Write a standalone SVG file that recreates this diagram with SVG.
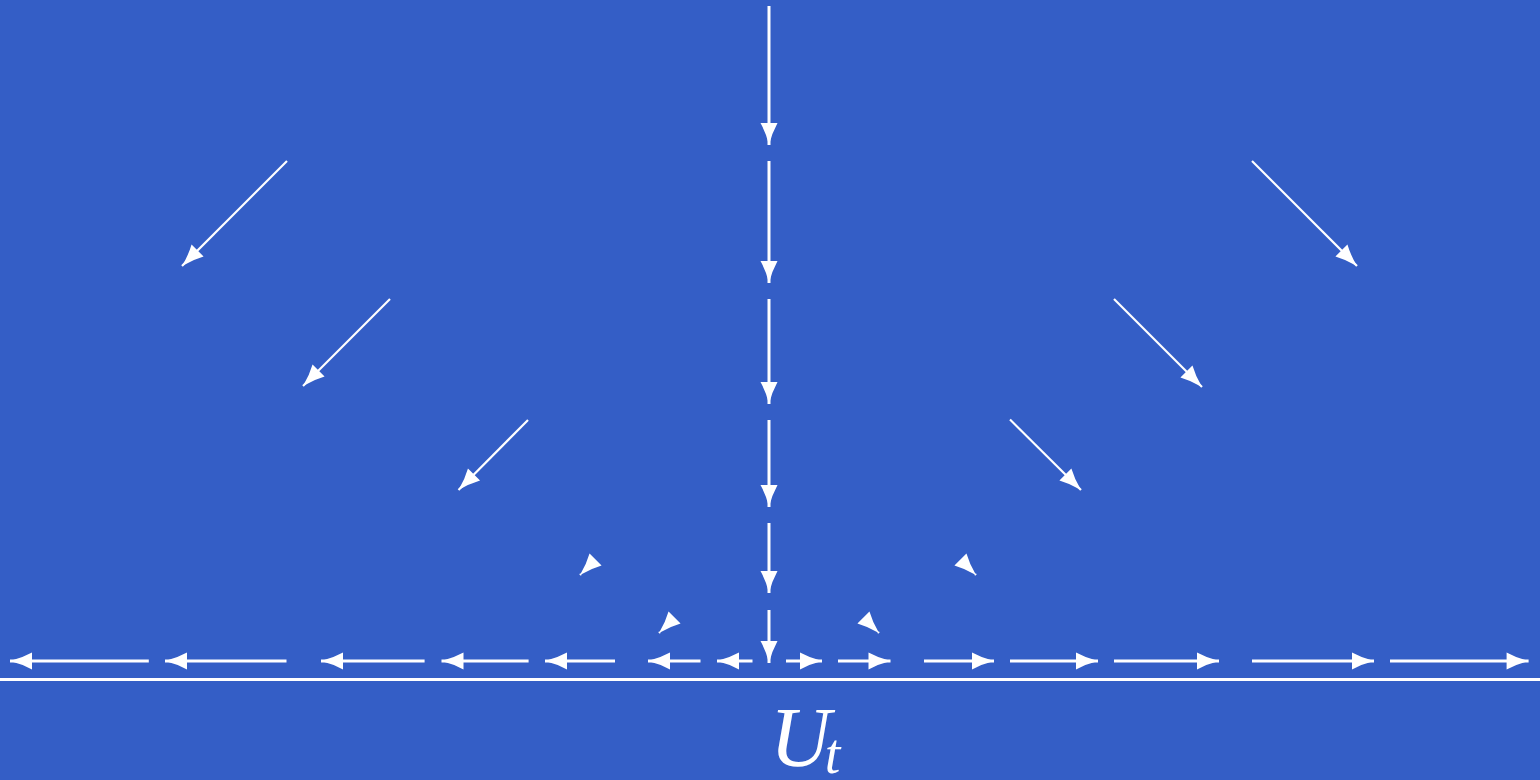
<svg xmlns="http://www.w3.org/2000/svg" width="1540" height="780" viewBox="0 0 1540 780">
<style>
.a{stroke:#fff;stroke-width:3;fill:none;marker-end:url(#ah)}
.d{stroke:#fff;stroke-width:2.2;fill:none;marker-end:url(#ah)}
.base{stroke:#fff;stroke-width:2.8}
.lbl{font-family:"Liberation Serif",serif;font-style:italic;fill:#fff}
</style>
<defs>
<marker id="ah" markerUnits="userSpaceOnUse" orient="auto" refX="0" refY="0" markerWidth="30" markerHeight="30" overflow="visible">
<path d="M0,0 Q-12,-3 -22,-8.5 L-22,8.5 Q-12,3 0,0 Z" fill="#fff"/>
</marker>
</defs>
<rect width="1540" height="780" fill="#345ec6"/>
<line class="base" x1="0" y1="679.5" x2="1540" y2="679.5"/>
<g id="connectors">
<line class="a" x1="769" y1="6" x2="769" y2="145"/>
<line class="a" x1="769" y1="161" x2="769" y2="283"/>
<line class="a" x1="769" y1="299" x2="769" y2="404"/>
<line class="a" x1="769" y1="420" x2="769" y2="507"/>
<line class="a" x1="769" y1="523" x2="769" y2="593"/>
<line class="a" x1="769" y1="610" x2="769" y2="663"/>
<line class="a" x1="148.8" y1="661" x2="10" y2="661"/>
<line class="a" x1="286.5" y1="661" x2="165" y2="661"/>
<line class="a" x1="424.6" y1="661" x2="321" y2="661"/>
<line class="a" x1="528.6" y1="661" x2="441.5" y2="661"/>
<line class="a" x1="615" y1="661" x2="545" y2="661"/>
<line class="a" x1="700.5" y1="661" x2="648" y2="661"/>
<line class="a" x1="752.5" y1="661" x2="717" y2="661"/>
<line class="a" x1="786" y1="661" x2="822" y2="661"/>
<line class="a" x1="838" y1="661" x2="890.5" y2="661"/>
<line class="a" x1="924" y1="661" x2="994" y2="661"/>
<line class="a" x1="1010" y1="661" x2="1098" y2="661"/>
<line class="a" x1="1114" y1="661" x2="1219" y2="661"/>
<line class="a" x1="1252" y1="661" x2="1374" y2="661"/>
<line class="a" x1="1390" y1="661" x2="1528.6" y2="661"/>
<line class="d" x1="287" y1="161" x2="182" y2="266"/>
<line class="d" x1="390" y1="299" x2="303" y2="386"/>
<line class="d" x1="528" y1="420" x2="458.5" y2="490"/>
<line class="d" x1="581" y1="574" x2="580" y2="575"/>
<line class="d" x1="660" y1="632" x2="659" y2="633"/>
<line class="d" x1="1252" y1="161" x2="1357" y2="266"/>
<line class="d" x1="1114" y1="299" x2="1202" y2="387"/>
<line class="d" x1="1010" y1="419.5" x2="1081" y2="490"/>
<line class="d" x1="975" y1="574" x2="976" y2="575"/>
<line class="d" x1="878" y1="632" x2="879" y2="633"/>
</g>
<g id="label">
<text class="lbl" x="770" y="766" font-size="84">U<tspan font-size="56" dx="-6" dy="7">t</tspan></text>
</g>
</svg>
